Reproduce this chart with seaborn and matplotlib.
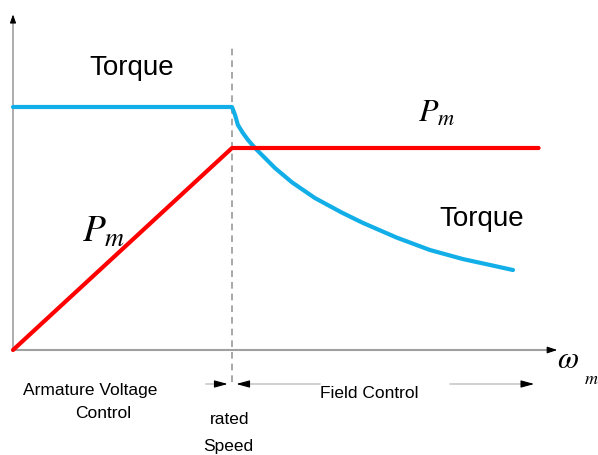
import pandas as pd
import matplotlib
matplotlib.use('Agg')
import matplotlib.pyplot as plt
import seaborn as sns

# speed in units of rated speed, values in units of rated power
torque_speed = [0.0, 1.0, 1.014, 1.027, 1.050, 1.073, 1.105, 1.151, 1.196, 1.274, 1.379,
                1.502, 1.598, 1.753, 1.904, 2.055, 2.178, 2.283]
torque_value = [1.203, 1.203, 1.163, 1.114, 1.074, 1.040, 1.0, 0.950, 0.901, 0.830, 0.752,
                0.680, 0.629, 0.556, 0.495, 0.450, 0.421, 0.396]
power_speed = [0.0, 1.0, 2.40]
power_value = [0.0, 1.0, 1.0]
rated_speed = 1.0

sns.set_style('white')
plt.rcParams['font.family'] = ['Liberation Sans', 'DejaVu Sans']
plt.rcParams['mathtext.fontset'] = 'stix'
plt.rcParams['text.color'] = 'black'

torque_df = pd.DataFrame({'speed': torque_speed, 'value': torque_value})
power_df = pd.DataFrame({'speed': power_speed, 'value': power_value})

fig = plt.figure(figsize=(5.98, 4.55), dpi=100)
ax = fig.add_axes([0, 0, 1, 1])
ax.set_xlim(-13 / 219, 585 / 219)
ax.set_ylim(-105 / 202, 350 / 202)
ax.axis('off')

sns.lineplot(data=torque_df, x='speed', y='value', color='#12aee8', lw=3.0, ax=ax,
             sort=False, solid_joinstyle='round')
sns.lineplot(data=power_df, x='speed', y='value', color='#ff0000', lw=3.0, ax=ax,
             sort=False, solid_joinstyle='round')

# axes with arrows
axis_col = '#a0a0a0'
ax.plot([0, 0], [0, 1.64], color=axis_col, lw=1.2, zorder=1)
ax.plot([0, 2.45], [0, 0], color=axis_col, lw=1.5, zorder=1)
ax.annotate('', xy=(0, 1.675), xytext=(0, 1.62),
            arrowprops=dict(arrowstyle='-|>,head_length=0.5,head_width=0.18', color='black', lw=0.8))
ax.annotate('', xy=(2.498, 0), xytext=(2.44, 0),
            arrowprops=dict(arrowstyle='-|>,head_length=0.6,head_width=0.2', color='black', lw=0.8))

# rated speed marker
ax.plot([rated_speed, rated_speed], [-0.16, 1.50], color='#999999', lw=1.2, ls=(0, (4, 3)), zorder=0)

# region arrows below the axis
ya = (350 - 384) / 202
line_col = '#c8c8c8'
head = dict(arrowstyle='-|>,head_length=0.8,head_width=0.22', color='black', lw=0.8)
ax.plot([(206 - 13) / 219, (216 - 13) / 219], [ya, ya], color=line_col, lw=1.2)
ax.annotate('', xy=(0.993, ya), xytext=(0.92, ya), arrowprops=head)
ax.plot([(247 - 13) / 219, (320 - 13) / 219], [ya, ya], color=line_col, lw=1.2)
ax.annotate('', xy=(1.007, ya), xytext=(1.08, ya), arrowprops=head)
ax.plot([(450 - 13) / 219, (525 - 13) / 219], [ya, ya], color=line_col, lw=1.2)
ax.annotate('', xy=((537 - 13) / 219, ya), xytext=((520 - 13) / 219, ya), arrowprops=head)

# labels
ax.text(0.543, 1.396, 'Torque', fontsize=20, ha='center', va='center')
ax.text(2.142, 0.65, 'Torque', fontsize=20, ha='center', va='center')
ax.text(1.849, 1.129, r'$P_m$', fontsize=23, ha='left', va='baseline')
ax.text(0.315, 0.535, r'$P_m$', fontsize=27, ha='left', va='baseline')
ax.text((557 - 13) / 219, (350 - 368) / 202, r'$\omega$', fontsize=22, ha='left', va='baseline')
ax.text((584 - 13) / 219, (350 - 384) / 202, r'$m$', fontsize=13, ha='left', va='baseline')

ax.text((90 - 13) / 219, (350 - 390) / 202, 'Armature Voltage', fontsize=12.5, ha='center', va='center')
ax.text((103 - 13) / 219, (350 - 414) / 202, 'Control', fontsize=12.5, ha='center', va='center')
ax.text((230 - 13) / 219, (350 - 420) / 202, 'rated', fontsize=12.5, ha='center', va='center')
ax.text((228 - 13) / 219, (350 - 446) / 202, 'Speed', fontsize=12.5, ha='center', va='center')
ax.text((369 - 13) / 219, (350 - 394) / 202, 'Field Control', fontsize=12.5, ha='center', va='center')

fig.savefig('out.png', dpi=100)
